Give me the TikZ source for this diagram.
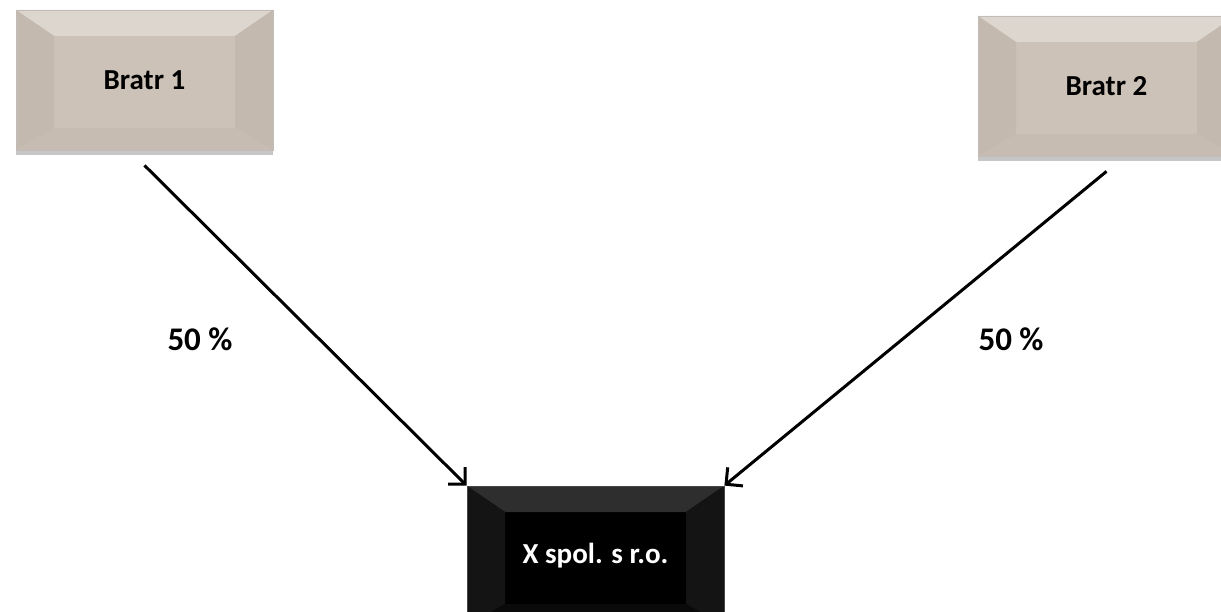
\documentclass[tikz,border=0pt]{standalone}
\usepackage{fontspec}
\setmainfont{Carlito}
\usetikzlibrary{arrows.meta,shadows}
\definecolor{taupe}{HTML}{CCC2B8}
\definecolor{taupetop}{HTML}{DDD6CF}
\definecolor{taupeside}{HTML}{C3B9AF}
\definecolor{taupelow}{HTML}{C6BCB2}
\definecolor{inktop}{HTML}{2E2E2E}
\definecolor{inkside}{HTML}{141414}
\definecolor{inklow}{HTML}{0A0A0A}
\begin{document}
\begin{tikzpicture}[x=1pt,y=-1pt,
bevel/.style n args = {4}{draw=#2!70!gray, line width=0.8pt, fill=#1,
    minimum width=257pt, minimum height=140pt, inner sep=0pt,
    font=\fontsize{29}{31}\selectfont\bfseries,
    drop shadow={opacity=0.45, shadow xshift=0pt, shadow yshift=-5pt},
    path picture={
      \fill[#2] (path picture bounding box.north west) -- (path picture bounding box.north east)
        -- ++(-38pt,-26pt) -| ([xshift=38pt,yshift=-26pt]path picture bounding box.north west) -- cycle;
      \fill[#3] (path picture bounding box.north west) -- ++(38pt,-26pt)
        -- ([xshift=38pt,yshift=22pt]path picture bounding box.south west) -- (path picture bounding box.south west) -- cycle;
      \fill[#3] (path picture bounding box.north east) -- ++(-38pt,-26pt)
        -- ([xshift=-38pt,yshift=22pt]path picture bounding box.south east) -- (path picture bounding box.south east) -- cycle;
      \fill[#4] (path picture bounding box.south west) -- ++(38pt,22pt)
        -- ([xshift=-38pt,yshift=22pt]path picture bounding box.south east) -- (path picture bounding box.south east) -- cycle;
    }},
share/.style = {font=\fontsize{33}{35}\selectfont\bfseries},
link/.style = {line width=3pt, -{Straight Barb[length=12pt,width=24pt,line width=3pt]}}
                    ]
\clip (0,0) rectangle (1221,612);
%
\node[bevel={taupe}{taupetop}{taupeside}{taupelow}] (bratr1) at (144.5,80) {Bratr 1};
\node[bevel={taupe}{taupetop}{taupeside}{taupelow}] (bratr2) at (1106.5,86) {Bratr 2};
\node[bevel={black}{inktop}{inkside}{inklow}, text=white] (firma) at (595.5,556) {X spol. s r.o.};
%
\draw[link] ([yshift=-15pt]bratr1.south) -- (firma.north west);
\draw[link] ([yshift=-15pt]bratr2.south) -- (firma.north east);
%
\node[share] (podil1) at (200,339) {50 \%};
\node[share] (podil2) at (1011,339) {50 \%};

\end{tikzpicture}
\end{document}
